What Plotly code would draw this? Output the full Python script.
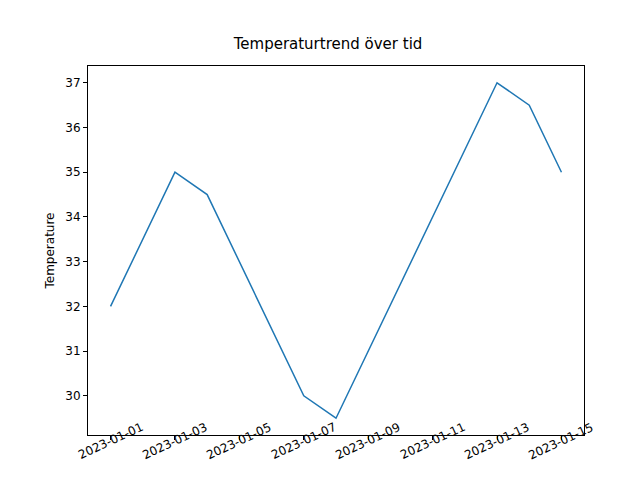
import plotly.graph_objects as go

dates = ["2023-01-01", "2023-01-03", "2023-01-04", "2023-01-07",
         "2023-01-08", "2023-01-13", "2023-01-14", "2023-01-15"]
temps = [32, 35, 34.5, 30, 29.5, 37, 36.5, 35]
tick_dates = ["2023-01-01", "2023-01-03", "2023-01-05", "2023-01-07",
              "2023-01-09", "2023-01-11", "2023-01-13", "2023-01-15"]

fig = go.Figure(go.Scatter(x=dates, y=temps, mode="lines",
                           line=dict(color="#1f77b4", width=1.5)))

axis_style = dict(showline=True, linecolor="black", mirror=True, ticks="outside",
                  ticklen=4, tickcolor="black", showgrid=False, zeroline=False,
                  automargin=False, tickfont=dict(size=12, color="black"))

# rotated tick labels centred on the ticks, like matplotlib
for d in tick_dates:
    fig.add_annotation(x=d, y=0, xref="x", yref="paper", yshift=-30,
                       text=d, showarrow=False, textangle=-25,
                       font=dict(size=12, color="black"))

fig.update_layout(
    width=640, height=480,
    font=dict(family="DejaVu Sans", color="black"),
    title=dict(text="Temperaturtrend över tid", x=0.5, xanchor="center",
               y=0.925, yanchor="middle", font=dict(size=15)),
    paper_bgcolor="white", plot_bgcolor="white",
    margin=dict(l=80, r=64, t=58, b=53),
    showlegend=False,
    xaxis=dict(range=["2022-12-31 07:12", "2023-01-15 16:48"], tickvals=tick_dates,
               showticklabels=False, **axis_style),
    yaxis=dict(range=[29.125, 37.375], dtick=1,
               title=dict(text="Temperature", font=dict(size=12), standoff=8),
               **axis_style),
)

fig.write_html("out.html")
